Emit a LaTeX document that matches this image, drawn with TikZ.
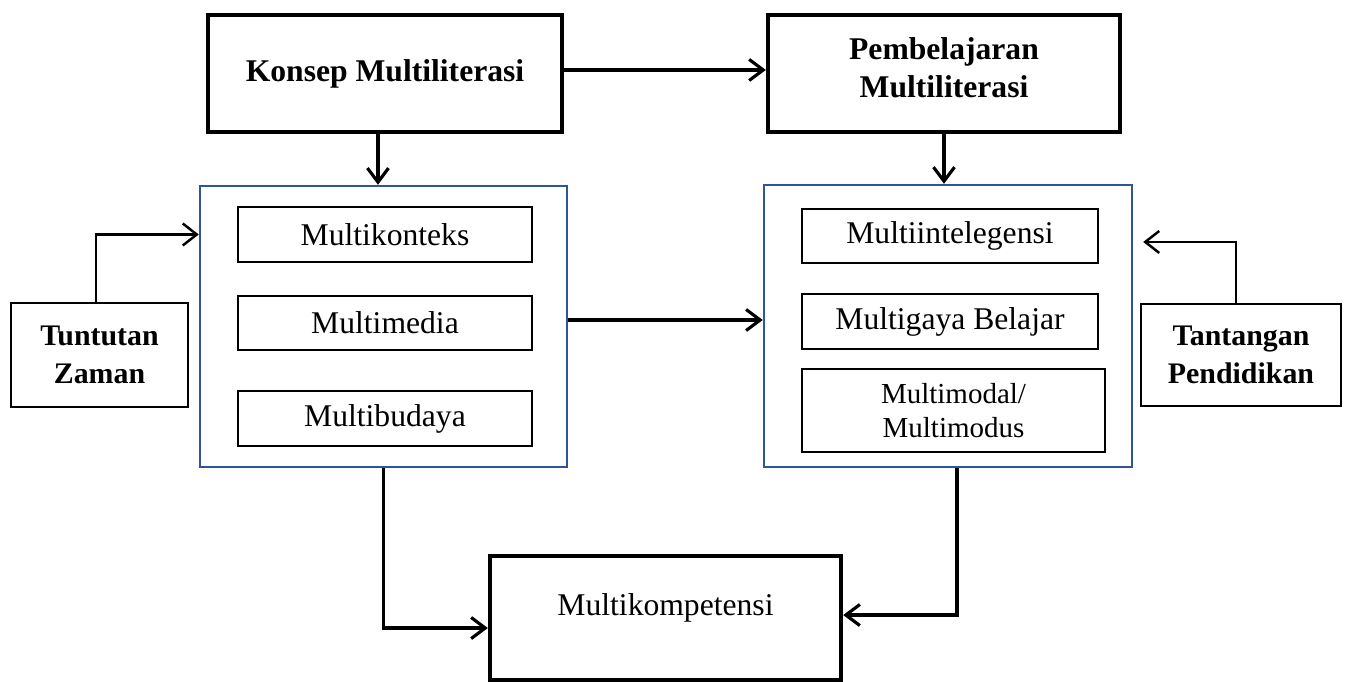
\documentclass[tikz,border=0pt]{standalone}
\usepackage{fontspec}
\setmainfont{Liberation Serif}
\usepackage{tikz}
\usetikzlibrary{arrows.meta}

\definecolor{frameblue}{RGB}{47,85,151}

\begin{document}
\begin{tikzpicture}[x=0.02cm, y=-0.02cm,
  bigbox/.style={draw, rectangle, line width=2.5pt, align=center,
    font=\fontsize{18}{21.5}\selectfont\bfseries},
  bluebox/.style={draw=frameblue, rectangle, line width=1.4pt},
  itembox/.style={draw, rectangle, line width=0.8pt, align=center,
    font=\fontsize{18}{21.5}\selectfont},
  sidebox/.style={draw, rectangle, line width=0.8pt, align=center,
    font=\fontsize{17}{21.5}\selectfont\bfseries},
  arr/.style={line width=1.8pt, -{Straight Barb[length=8pt,width=12pt]}},
  thinarr/.style={line width=1.4pt, -{Straight Barb[length=8pt,width=12.5pt]}}
]
\useasboundingbox (0,0) rectangle (1347,682);

\node[bigbox, minimum width=7.08cm, minimum height=2.34cm] (konsep) at (385,73.5) {Konsep Multiliterasi};
\node[bigbox, minimum width=7.04cm, minimum height=2.34cm] (pembel) at (944,73.5) {};
\node[font=\fontsize{18}{21.5}\selectfont\bfseries, align=center] at ([yshift=3.5pt]pembel.center) {Pembelajaran\\Multiliterasi};

\node[bluebox, minimum width=7.34cm, minimum height=5.62cm] (lbox) at (383.5,326.5) {};
\node[itembox, minimum width=5.88cm, minimum height=1.1cm] (mkonteks) at (385,234.5) {Multikonteks};
\node[itembox, minimum width=5.88cm, minimum height=1.08cm] (mmedia) at (385,323) {Multimedia};
\node[itembox, minimum width=5.88cm, minimum height=1.1cm] (mbudaya) at (385,418.5) {Multibudaya};

\node[bluebox, minimum width=7.36cm, minimum height=5.64cm] (rbox) at (948,326) {};
\node[itembox, minimum width=5.92cm, minimum height=1.08cm] (minteleg) at (950,236) {Multiintelegensi};
\node[itembox, minimum width=5.92cm, minimum height=1.1cm] (mgaya) at (950,321.5) {Multigaya Belajar};
\node[itembox, minimum width=6.06cm, minimum height=1.66cm,
  font=\fontsize{16.5}{19.3}\selectfont] (mmodal) at (953.5,410.5) {Multimodal/\\Multimodus};

\node[sidebox, minimum width=3.54cm, minimum height=2.08cm] (tuntut) at (99.5,355) {Tuntutan\\Zaman};
\node[sidebox, minimum width=4.0cm, minimum height=2.04cm] (tantang) at (1241,355) {Tantangan\\Pendidikan};

\node[bigbox, minimum width=7.02cm, minimum height=2.48cm] (komp) at (665.5,618) {};
\node[font=\fontsize{18}{21.5}\selectfont] at ([yshift=6pt]komp.center) {Multikompetensi};

% connectors
\draw[arr] ([yshift=2pt]konsep.east) -- ([yshift=2pt]pembel.west);
\draw[arr] ([xshift=-4pt]konsep.south) -- ([xshift=-4pt]konsep.south |- lbox.north);
\draw[arr] (pembel.south) -- (pembel.south |- rbox.north);
\draw[arr] ([yshift=3.7pt]lbox.east) -- ([yshift=3.7pt]lbox.east -| rbox.west);
\draw[thinarr] ([xshift=-2pt]tuntut.north) |- (mkonteks -| lbox.west);
\draw[thinarr] ([xshift=-3pt]tantang.north) |- ([xshift=5.7pt,yshift=-3.4pt]minteleg -| rbox.east);
\draw[arr] (lbox.south) |- ([yshift=-5.7pt]komp.west);
\draw[arr] ([xshift=5.1pt]rbox.south) |- ([yshift=1.7pt]komp.east);

\end{tikzpicture}
\end{document}
